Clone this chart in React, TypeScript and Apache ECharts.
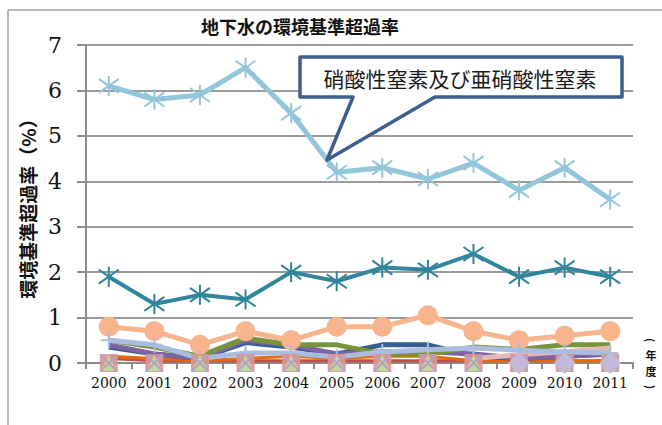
import React, { useEffect, useRef } from "react";
import * as echarts from "echarts";

const years = ["2000", "2001", "2002", "2003", "2004", "2005", "2006", "2007", "2008", "2009", "2010", "2011"];
const yTicks = [0, 7, 1];
const title = "地下水の環境基準超過率";
const yName = "環境基準超過率（%）";
const calloutText = "硝酸性窒素及び亜硝酸性窒素";
const xUnitChars = ["(", "年", "度", ")"];

const nitrate = [6.1, 5.8, 5.9, 6.5, 5.5, 4.2, 4.3, 4.05, 4.4, 3.8, 4.3, 3.6];
const arsenic = [1.9, 1.3, 1.5, 1.4, 2.0, 1.8, 2.1, 2.05, 2.4, 1.9, 2.1, 1.9];
const fluorine = [0.8, 0.7, 0.4, 0.7, 0.5, 0.8, 0.8, 1.05, 0.7, 0.5, 0.6, 0.7];
const tetra = [0.5, 0.35, 0.15, 0.55, 0.4, 0.4, 0.2, 0.2, 0.35, 0.3, 0.4, 0.4];
const trichloro = [0.35, 0.2, 0.1, 0.45, 0.35, 0.2, 0.4, 0.4, 0.15, 0.1, 0.15, 0.2];
const lead = [0.4, 0.2, 0.1, 0.5, 0.4, 0.2, 0.25, 0.25, 0.2, 0.1, 0.15, 0.2];
const boron = [0.5, 0.4, 0.1, 0.22, 0.22, 0.13, 0.24, 0.29, 0.33, 0.28, 0.24, 0.22];
const cadmium = [0.1, 0.05, 0.05, 0.05, 0.05, 0.05, 0.05, 0.05, 0.05, 0.05, 0.05, 0.05];
const benzene = [0.15, 0.1, 0.05, 0.1, 0.15, 0.1, 0.15, 0.15, 0.05, 0.05, 0.05, 0.05];
const dichloroethylene = [null, null, null, null, null, null, null, null, 0.1, 0.18, 0.25, 0.33];
const zeroA = [0, 0, 0, 0, 0, 0, 0, 0, 0, 0, 0, 0];
const zeroB = [0, 0, 0, 0, 0, 0, 0, 0, 0, 0, 0, 0];
const zeroC = [0, 0, 0, 0, 0, 0, 0, 0, 0, 0, 0, 0];
const vinyl = [null, null, null, null, null, null, null, null, null, 0, 0, 0];

const SERIF = "'DejaVu Serif', 'Liberation Serif', serif";
const CJK = "'Noto Sans CJK JP', 'Noto Sans', sans-serif";
const ASTER = "path://M0,-10L0,10M-7,-7L7,7M-7,7L7,-7";
const PLUS = "path://M0,-10L0,10M-10,0L10,0";
const XMARK = "path://M-10,-10L10,10M-10,10L10,-10";

function lineSeries(name: string, data: any[], color: string, width: number, extra: any = {}) {
  return {
    type: "line",
    name,
    data,
    symbol: "none",
    lineStyle: { color, width },
    itemStyle: { color },
    ...extra,
  };
}

function strokeMarker(name: string, data: any[], color: string, width: number, symbol: string, size: number, bw: number, z: number) {
  return {
    type: "line",
    name,
    data,
    symbol,
    symbolSize: size,
    showSymbol: true,
    z,
    lineStyle: { color, width },
    itemStyle: { color: "rgba(0,0,0,0)", borderColor: color, borderWidth: bw },
  };
}

export default function App() {
  const ref = useRef<HTMLDivElement>(null);
  useEffect(() => {
    if (!ref.current) return;
    const chart = echarts.init(ref.current, null, { renderer: "svg" });
    const unitY = [340, 355, 371, 387];
    const unitTexts = xUnitChars.map((ch, i) => {
      const paren = ch === "(" || ch === ")";
      return {
        type: "text",
        x: 651,
        y: unitY[i],
        rotation: paren ? -Math.PI / 2 : 0,
        style: {
          text: ch,
          fontSize: 11,
          lineHeight: 11,
          fontWeight: "bold",
          fontFamily: CJK,
          fill: "#111",
          align: "center",
          verticalAlign: "middle",
        },
      };
    });
    const option: any = {
      animation: false,
      backgroundColor: "#ffffff",
      grid: { left: 86, right: 29, top: 45, bottom: 62 },
      xAxis: {
        type: "category",
        data: years,
        boundaryGap: true,
        axisLine: { lineStyle: { color: "#8c8c8c", width: 2 } },
        axisTick: { show: true, length: 6, lineStyle: { color: "#8c8c8c", width: 2 } },
        axisLabel: { interval: 0, fontFamily: SERIF, fontSize: 14, color: "#111", margin: 13 },
        splitLine: { show: false },
      },
      yAxis: {
        type: "value",
        min: yTicks[0],
        max: yTicks[1],
        interval: yTicks[2],
        axisLine: { show: true, lineStyle: { color: "#8c8c8c", width: 2 } },
        axisTick: { show: true, length: 9, lineStyle: { color: "#8c8c8c", width: 2 } },
        axisLabel: { fontFamily: SERIF, fontSize: 22, color: "#111", margin: 24 },
        splitLine: { show: true, lineStyle: { color: "#9a9a9a", width: 2 } },
      },
      series: [
        lineSeries("カドミウム", cadmium, "#C0504D", 3, { z: 2 }),
        lineSeries("ベンゼン", benzene, "#E46C0A", 3, { z: 2 }),
        lineSeries("トリクロロエチレン", trichloro, "#355F91", 5, { z: 2 }),
        lineSeries("鉛", lead, "#7E62A1", 5, { z: 2 }),
        lineSeries("テトラクロロエチレン", tetra, "#77933C", 5, { z: 2 }),
        lineSeries("1,2-ジクロロエチレン", dichloroethylene, "#E6B9B8", 5, { z: 2 }),
        {
          type: "line",
          name: "ふっ素",
          data: fluorine,
          symbol: "circle",
          symbolSize: 20,
          z: 3,
          lineStyle: { color: "#F8B48C", width: 5 },
          itemStyle: { color: "#F8B48C" },
        },
        strokeMarker("ほう素", boron, "#A9BDE0", 5, PLUS, 16, 2, 5),
        strokeMarker("砒素", arsenic, "#31859C", 4, ASTER, 20, 2, 4),
        strokeMarker("硝酸性窒素及び亜硝酸性窒素", nitrate, "#93C6DA", 5, ASTER, 20, 2, 4),
        {
          type: "line",
          name: "シス-1,2-ジクロロエチレン",
          data: zeroA,
          symbol: "rect",
          symbolSize: 18,
          z: 6,
          lineStyle: { width: 0, color: "#D99694" },
          itemStyle: { color: "#D99694", opacity: 0.9 },
        },
        {
          type: "line",
          name: "四塩化炭素",
          data: zeroB,
          symbol: "triangle",
          symbolSize: 16,
          z: 7,
          lineStyle: { width: 0, color: "#C3D69B" },
          itemStyle: { color: "#C3D69B" },
        },
        {
          type: "line",
          name: "1,1-ジクロロエチレン",
          data: zeroC,
          symbol: XMARK,
          symbolSize: 16,
          z: 8,
          lineStyle: { width: 0, color: "#B3A2C7" },
          itemStyle: { color: "rgba(0,0,0,0)", borderColor: "#B3A2C7", borderWidth: 2 },
        },
        {
          type: "line",
          name: "塩化ビニルモノマー",
          data: vinyl,
          symbol: "diamond",
          symbolSize: 22,
          z: 9,
          lineStyle: { width: 0, color: "#C4B8D8" },
          itemStyle: { color: "#C4B8D8" },
        },
      ],
      graphic: [
        { type: "line", shape: { x1: 8, y1: 10, x2: 8, y2: 425 }, style: { stroke: "#b8b8b8", lineWidth: 2 } },
        { type: "line", shape: { x1: 8, y1: 10, x2: 662, y2: 10 }, style: { stroke: "#b8b8b8", lineWidth: 2 } },
        {
          type: "text",
          x: 300,
          y: 26,
          style: {
            text: title,
            fontSize: 18,
            fontWeight: "bold",
            fontFamily: CJK,
            fill: "#111",
            align: "center",
            verticalAlign: "middle",
          },
        },
        {
          type: "text",
          x: 27,
          y: 204,
          rotation: Math.PI / 2,
          style: {
            text: yName,
            fontSize: 19,
            fontWeight: "bold",
            fontFamily: CJK,
            fill: "#111",
            align: "center",
            verticalAlign: "middle",
          },
        },
        ...unitTexts,
        {
          type: "polygon",
          z: 100,
          shape: {
            points: [
              [300, 57],
              [622, 57],
              [622, 97],
              [435, 97],
              [327, 160],
              [353, 97],
              [300, 97],
            ],
          },
          style: { fill: "#ffffff", stroke: "#3C5F8E", lineWidth: 3.5, lineJoin: "round" },
        },
        {
          type: "text",
          z: 101,
          x: 460,
          y: 78,
          style: {
            text: calloutText,
            fontSize: 21,
            fontFamily: CJK,
            fill: "#1a1a1a",
            align: "center",
            verticalAlign: "middle",
          },
        },
      ],
    };
    chart.setOption(option);
    return () => chart.dispose();
  }, []);
  return <div ref={ref} style={{ position: "fixed", left: 0, top: 0, width: 662, height: 425 }} />;
}
